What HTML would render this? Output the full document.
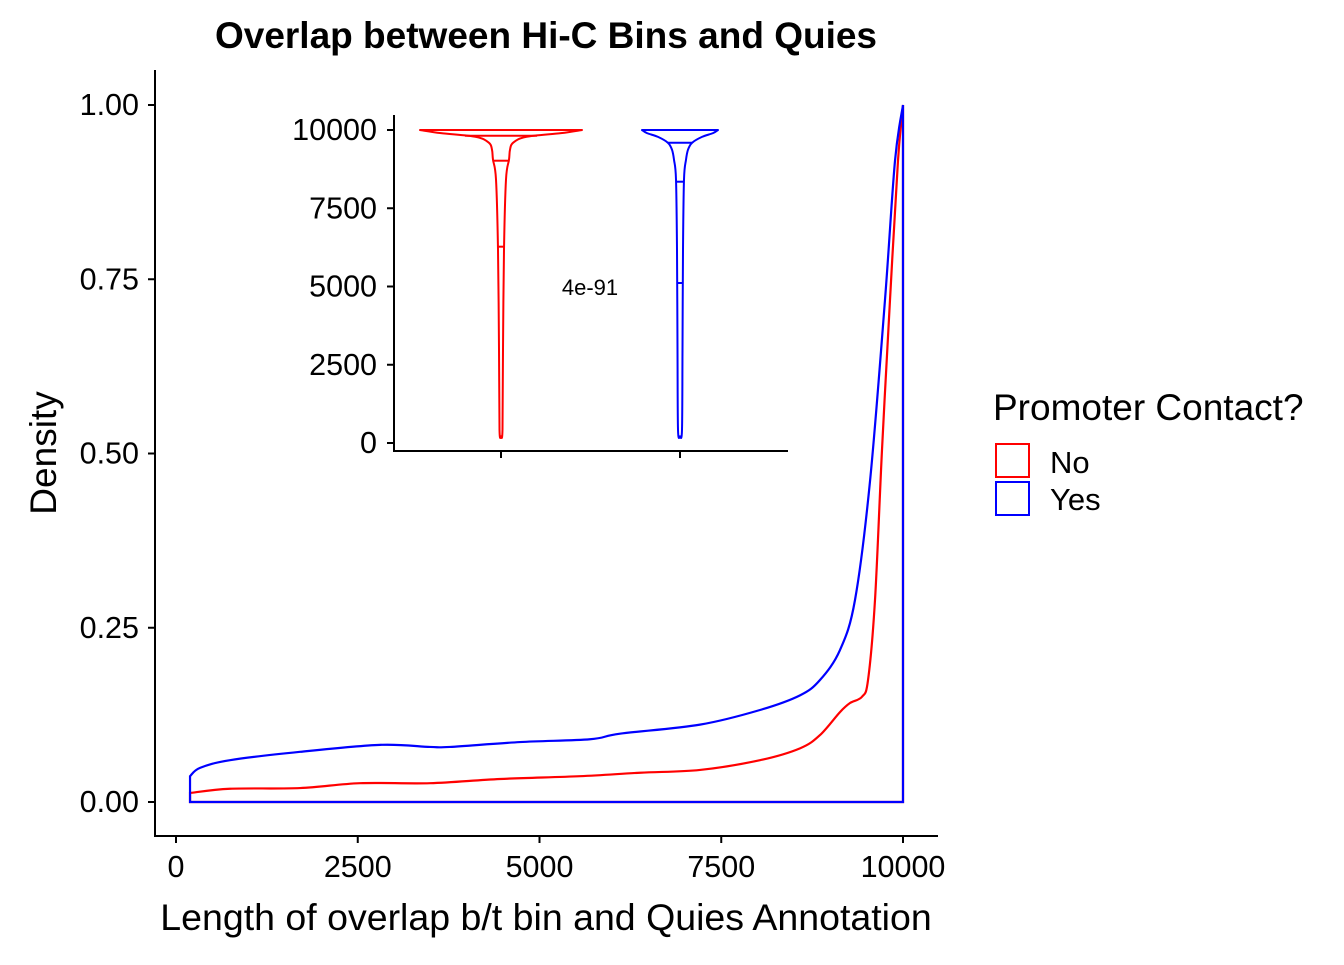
<!DOCTYPE html>
<html><head><meta charset="utf-8"><style>
body{margin:0;background:#fff;font-family:"Liberation Sans",Arial,sans-serif}
</style></head><body>
<svg id="chart" width="1344" height="960" viewBox="0 0 1344 960" font-family="Liberation Sans, Arial, sans-serif">
<text x="546" y="48" text-anchor="middle" font-size="37" font-weight="bold">Overlap between Hi-C Bins and Quies</text>
<g id="main"></g>
<g id="inset"></g>
<text x="546" y="930" text-anchor="middle" font-size="37.5">Length of overlap b/t bin and Quies Annotation</text>
<text transform="translate(56,453) rotate(-90)" text-anchor="middle" font-size="37">Density</text>
<g>
<text x="993" y="420" font-size="37">Promoter Contact?</text>
<rect x="996" y="444" width="33" height="33" fill="none" stroke="#f00" stroke-width="2"/>
<text x="1050" y="473" font-size="31">No</text>
<rect x="996" y="482" width="33" height="33" fill="none" stroke="#00f" stroke-width="2"/>
<text x="1050" y="510" font-size="31">Yes</text>
</g>
</svg>
<script>
const xTicks=[0,2500,5000,7500,10000];
const yTicks=[0,0.25,0.5,0.75,1.0];
const yTickLabels=["0.00","0.25","0.50","0.75","1.00"];
const noX=[193,743,1706,2531,3494,4457,5557,6382,7208,8033,8583,8858,9133,9271,9436,9519,9615,9711,9821,9931,10000];
const noD=[.013,.019,.020,.027,.027,.033,.037,.042,.046,.060,.077,.096,.129,.142,.151,.175,.29,.505,.72,.92,1.0];
const yesX=[193,330,743,1706,2806,3494,3769,4732,5695,6107,7208,8033,8583,8858,9133,9340,9546,9752,9890,10000];
const yesD=[.037,.049,.060,.072,.082,.079,.079,.086,.090,.098,.111,.132,.153,.175,.218,.29,.46,.72,.92,1.0];
// inset violin data
const insetTicks=[0,2500,5000,7500,10000];
const violinY=[10000,9900,9780,9590,9370,9050,8420,6180,2990,430,210];
const noW=[81,60,25,12,9,8,5,3,2,1.5,0];
const yesW=[38,33,22,12,8,6,4,3,2.5,2,0];
const noQ=[9818,9019,6272];
const yesQ=[9594,8348,5112];
const pLabel="4e-91";

const NS="http://www.w3.org/2000/svg";
function mk(p,t,a){const e=document.createElementNS(NS,t);for(const k in a)e.setAttribute(k,a[k]);p.appendChild(e);return e;}
function smooth(pts){let d=`M${pts[0][0]},${pts[0][1]}`;for(let i=0;i<pts.length-1;i++){const p0=pts[Math.max(i-1,0)],p1=pts[i],p2=pts[i+1],p3=pts[Math.min(i+2,pts.length-1)];
 d+=`C${p1[0]+(p2[0]-p0[0])/6},${p1[1]+(p2[1]-p0[1])/6} ${p2[0]-(p3[0]-p1[0])/6},${p2[1]-(p3[1]-p1[1])/6} ${p2[0]},${p2[1]}`;}return d;}
const X=v=>176+v*0.0727, Y=d=>802-d*697;
const main=document.getElementById('main');
let l=mk(main,'path',{d:'M155,70V836H938',fill:'none',stroke:'#000','stroke-width':2});


xTicks.forEach(v=>{mk(main,'line',{x1:X(v),x2:X(v),y1:836,y2:843,stroke:'#000','stroke-width':2});
 const t=mk(main,'text',{x:X(v),y:877,'text-anchor':'middle','font-size':30.5});t.textContent=v;
 
 });
yTicks.forEach((v,i)=>{mk(main,'line',{x1:148,x2:155,y1:Y(v),y2:Y(v),stroke:'#000','stroke-width':2});
 const t=mk(main,'text',{x:139,y:Y(v)+10,'text-anchor':'end','font-size':30.5});t.textContent=yTickLabels[i];
 
 });
function dens(xs,ds,c,name){const pts=xs.map((x,i)=>[X(x),Y(ds[i])]);
 let d=`M${X(xs[0])},${Y(0)}L`+smooth(pts).slice(1);
 d+=`L${X(xs[xs.length-1])},${Y(0)}Z`;
 const p=mk(main,'path',{d,fill:'none',stroke:c,'stroke-width':2.2});
 
 }
dens(noX,noD,'#f00','density-no');
dens(yesX,yesD,'#00f','density-yes');

const ins=document.getElementById('inset');
const IY=v=>443-v*0.0313;
l=mk(ins,'path',{d:'M394,115V451H788',fill:'none',stroke:'#000','stroke-width':2});


insetTicks.forEach(v=>{mk(ins,'line',{x1:387,x2:394,y1:IY(v),y2:IY(v),stroke:'#000','stroke-width':2});
 const t=mk(ins,'text',{x:377,y:IY(v)+10,'text-anchor':'end','font-size':30.5});t.textContent=v;
 
 });
[501,680].forEach(cx=>mk(ins,'line',{x1:cx,x2:cx,y1:451,y2:458,stroke:'#000','stroke-width':2}));
function halfW(ws,v){for(let i=0;i<violinY.length-1;i++){if(v<=violinY[i]&&v>=violinY[i+1]){const f=(violinY[i]-v)/(violinY[i]-violinY[i+1]);return ws[i]+(ws[i+1]-ws[i])*f;}}return 0;}
function violin(cx,ws,qs,c,name){const r=violinY.map((v,i)=>[cx+ws[i],IY(v)]);const lft=violinY.map((v,i)=>[cx-ws[i],IY(v)]).reverse();
 const d=smooth(r)+'L'+smooth(lft).slice(1)+'Z';
 const p=mk(ins,'path',{d,fill:'none',stroke:c,'stroke-width':2,'stroke-linejoin':'round'});
 
 
 qs.forEach(q=>{const w=halfW(ws,q);const ln=mk(ins,'line',{x1:cx-w,x2:cx+w,y1:IY(q),y2:IY(q),stroke:c,'stroke-width':2});
  
  });}
violin(501,noW,noQ,'#f00','violin-no');
violin(680,yesW,yesQ,'#00f','violin-yes');
const pt=mk(ins,'text',{x:590,y:295,'text-anchor':'middle','font-size':22});pt.textContent=pLabel;


</script>
</body></html>
